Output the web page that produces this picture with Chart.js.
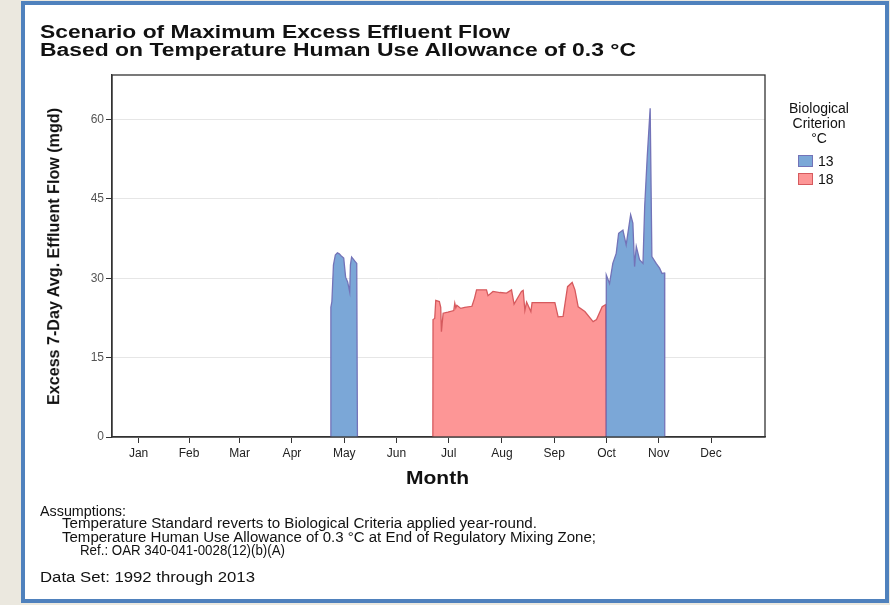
<!DOCTYPE html>
<html>
<head>
<meta charset="utf-8">
<script src="https://cdn.jsdelivr.net/npm/chart.js@4.4.1/dist/chart.umd.min.js"></script>
<style>
  html, body { margin: 0; padding: 0; }
  body { width: 890px; height: 605px; background: #ebe8df; position: relative; overflow: hidden;
         font-family: "Liberation Sans", Arial, sans-serif; color: #111; }
  #frame { position: absolute; left: 21px; top: 1px; width: 860px; height: 594px;
           border: 4px solid #4f81bd; background: #fff; }
  #wrap { position: absolute; left: 0; top: 0; width: 890px; height: 605px; }
  .t { position: absolute; white-space: nowrap; transform-origin: 0 0; line-height: 1; }
  .sw { position: absolute; width: 15px; height: 12px; box-sizing: border-box; }
</style>
</head>
<body>
<div id="frame"></div>
<div id="wrap"><canvas id="chart"></canvas></div>
<div id="texts"></div>
<script>
// months, with tick positions as day of year (mid-month)
const monthLabels = ["Jan", "Feb", "Mar", "Apr", "May", "Jun", "Jul", "Aug", "Sep", "Oct", "Nov", "Dec"];
const monthTickDays = [15.5, 45, 74.5, 105, 135.5, 166, 196.5, 227.5, 258, 288.5, 319, 349.5];
const yTicks = [0, 15, 30, 45, 60];

// criterion 13 °C : May block, then Oct-Nov block (null = gap)
const bio13Days = [127.6, 127.7, 128.3, 129.2, 130.3, 131.5, 132.6, 133.8, 135.2, 136.3, 137.5, 138.7, 139.1, 139.8, 140.8, 141.8, 142.8, 143.2,
  200,
  288.3, 288.4, 290.3, 292.2, 294.2, 295.6, 298.1, 300, 302.6, 303.9, 304.9, 305.9, 307.8, 309.8, 310.8, 312.3, 314, 315, 317.5, 319.5, 320.9, 322.4, 322.5];
const bio13Flow = [0, 24.5, 25.6, 32.5, 34.4, 34.8, 34.6, 34.2, 33.8, 30.2, 29.3, 27.4, 32.5, 34.0, 33.6, 33.2, 32.8, 0,
  null,
  0, 30.6, 29.0, 32.8, 34.7, 38.5, 39.1, 36.3, 42.0, 40.4, 32.2, 36.0, 33.5, 32.8, 43.5, 53.0, 62.1, 34.1, 32.8, 31.9, 30.9, 31.0, 0];

// criterion 18 °C : Jul-Oct block
const bio18Days = [187.2, 187.3, 188.3, 188.9, 191.0, 191.8, 192.2, 193.2, 196.0, 199.4, 200.0, 200.6, 201.2, 203.5, 205.8, 210.0, 211.5, 212.7,
  218.5, 219.4, 222.3, 226.3, 230.2, 233.1, 234.6, 236.9, 238.9, 239.9, 240.9, 241.9, 244.4, 245.1, 246.7, 258.4, 260.3, 263.2, 265.8, 268.5,
  270.1, 272.0, 275.9, 280.7, 282.7, 286.0, 288.0, 288.3];
const bio18Flow = [0, 22.2, 22.4, 25.8, 25.6, 24.5, 19.9, 23.4, 23.6, 23.9, 25.3, 24.4, 24.9, 24.3, 24.5, 24.7, 26.2, 27.8,
  27.8, 26.7, 27.5, 27.3, 27.2, 27.8, 25.1, 26.4, 27.5, 27.7, 23.9, 25.5, 23.7, 25.4, 25.4, 25.4, 22.7, 22.8, 28.4, 29.2,
  27.8, 24.6, 23.7, 21.8, 22.2, 24.6, 25.0, 0];

const series = [
  { label: "13", days: bio13Days, flow: bio13Flow, fill: "#7ba7d7", line: "#7373b8" },
  { label: "18", days: bio18Days, flow: bio18Flow, fill: "#fd9696", line: "#d65a5e" }
];

const frameBox = {
  id: "frameBox",
  afterDraw(chart) {
    const a = chart.chartArea, c = chart.ctx;
    c.save();
    c.strokeStyle = "#333";
    c.lineWidth = 1.3;
    c.strokeRect(a.left, a.top, a.right - a.left, a.bottom - a.top);
    c.restore();
  }
};

new Chart(document.getElementById("chart"), {
  type: "line",
  data: {
    datasets: series.map(s => ({
      label: s.label,
      data: s.days.map((d, i) => ({ x: d, y: s.flow[i] })),
      backgroundColor: s.fill,
      borderColor: s.line,
      borderWidth: 1.3,
      fill: "origin",
      pointRadius: 0,
      tension: 0,
      spanGaps: false
    }))
  },
  options: {
    responsive: true,
    maintainAspectRatio: false,
    animation: false,
    layout: { padding: { left: 0, top: 75, right: 125, bottom: 138 } },
    plugins: { legend: { display: false }, tooltip: { enabled: false } },
    scales: {
      x: {
        type: "linear", min: 0, max: 381,
        afterFit: s => { s.height = 30; },
        afterBuildTicks: s => { s.ticks = monthTickDays.map(v => ({ value: v })); },
        ticks: {
          callback: (v, i) => monthLabels[i],
          font: { family: "Liberation Sans", size: 12 }, color: "#222", padding: 3, maxRotation: 0, autoSkip: false
        },
        grid: { drawOnChartArea: false, tickLength: 6, tickColor: "#333" },
        border: { color: "#333", width: 1.3 }
      },
      y: {
        min: 0, max: 68.4,
        afterFit: s => { s.width = 112; },
        afterBuildTicks: s => { s.ticks = yTicks.map(v => ({ value: v })); },
        ticks: { font: { family: "Liberation Sans", size: 12 }, color: "#555", padding: 2 },
        grid: { color: "#e6e6e6", tickLength: 6, tickColor: "#333" },
        border: { color: "#333", width: 1.3 }
      }
    }
  },
  plugins: [frameBox]
});

// text outside the plot: x,y = anchor, y is the text centre
const box = document.getElementById("texts");
function label(text, x, y, size, weight, targetW, align) {
  const el = document.createElement("div");
  el.className = "t";
  el.textContent = text;
  el.style.fontSize = size + "px";
  el.style.fontWeight = weight;
  box.appendChild(el);
  const w = el.getBoundingClientRect().width;
  const s = targetW ? targetW / w : 1;
  el.style.left = (align === "center" ? x - w * s / 2 : x) + "px";
  el.style.top = (y - size / 2) + "px";
  el.style.transform = "scaleX(" + s + ")";
  return el;
}

label("Scenario of Maximum Excess Effluent Flow", 40, 32, 18, "bold", 470);
label("Based on Temperature Human Use Allowance of 0.3 °C", 40, 50, 18, "bold", 596);

const yt = label("Excess 7-Day Avg. Effluent Flow (mgd)", 0, 0, 17, "bold", 0);
const yw = yt.getBoundingClientRect().width;
yt.style.left = (54 - yw / 2) + "px";
yt.style.top = (256 - 8.5) + "px";
yt.style.transformOrigin = "50% 50%";
yt.style.transform = "rotate(-90deg) scaleX(" + (297 / yw) + ")";

label("Month", 437, 478, 18, "bold", 63, "center");

label("Biological", 819, 108, 14, "normal", 0, "center");
label("Criterion", 819, 123, 14, "normal", 0, "center");
label("°C", 819, 138, 14, "normal", 0, "center");
series.forEach((s, i) => {
  const sw = document.createElement("div");
  sw.className = "sw";
  sw.style.left = "798px";
  sw.style.top = (155 + i * 18) + "px";
  sw.style.background = s.fill;
  sw.style.border = "1px solid " + s.line;
  box.appendChild(sw);
  label(s.label, 818, 161 + i * 18, 14, "normal", 0);
});

label("Assumptions:", 40, 511, 14, "normal", 86);
label("Temperature Standard reverts to Biological Criteria applied year-round.", 62, 523, 14, "normal", 475);
label("Temperature Human Use Allowance of 0.3 °C at End of Regulatory Mixing Zone;", 62, 537, 14, "normal", 534);
label("Ref.:  OAR 340-041-0028(12)(b)(A)", 80, 550, 14, "normal", 205);
label("Data Set:  1992 through 2013", 40, 577, 14, "normal", 215);
</script>
</body>
</html>
